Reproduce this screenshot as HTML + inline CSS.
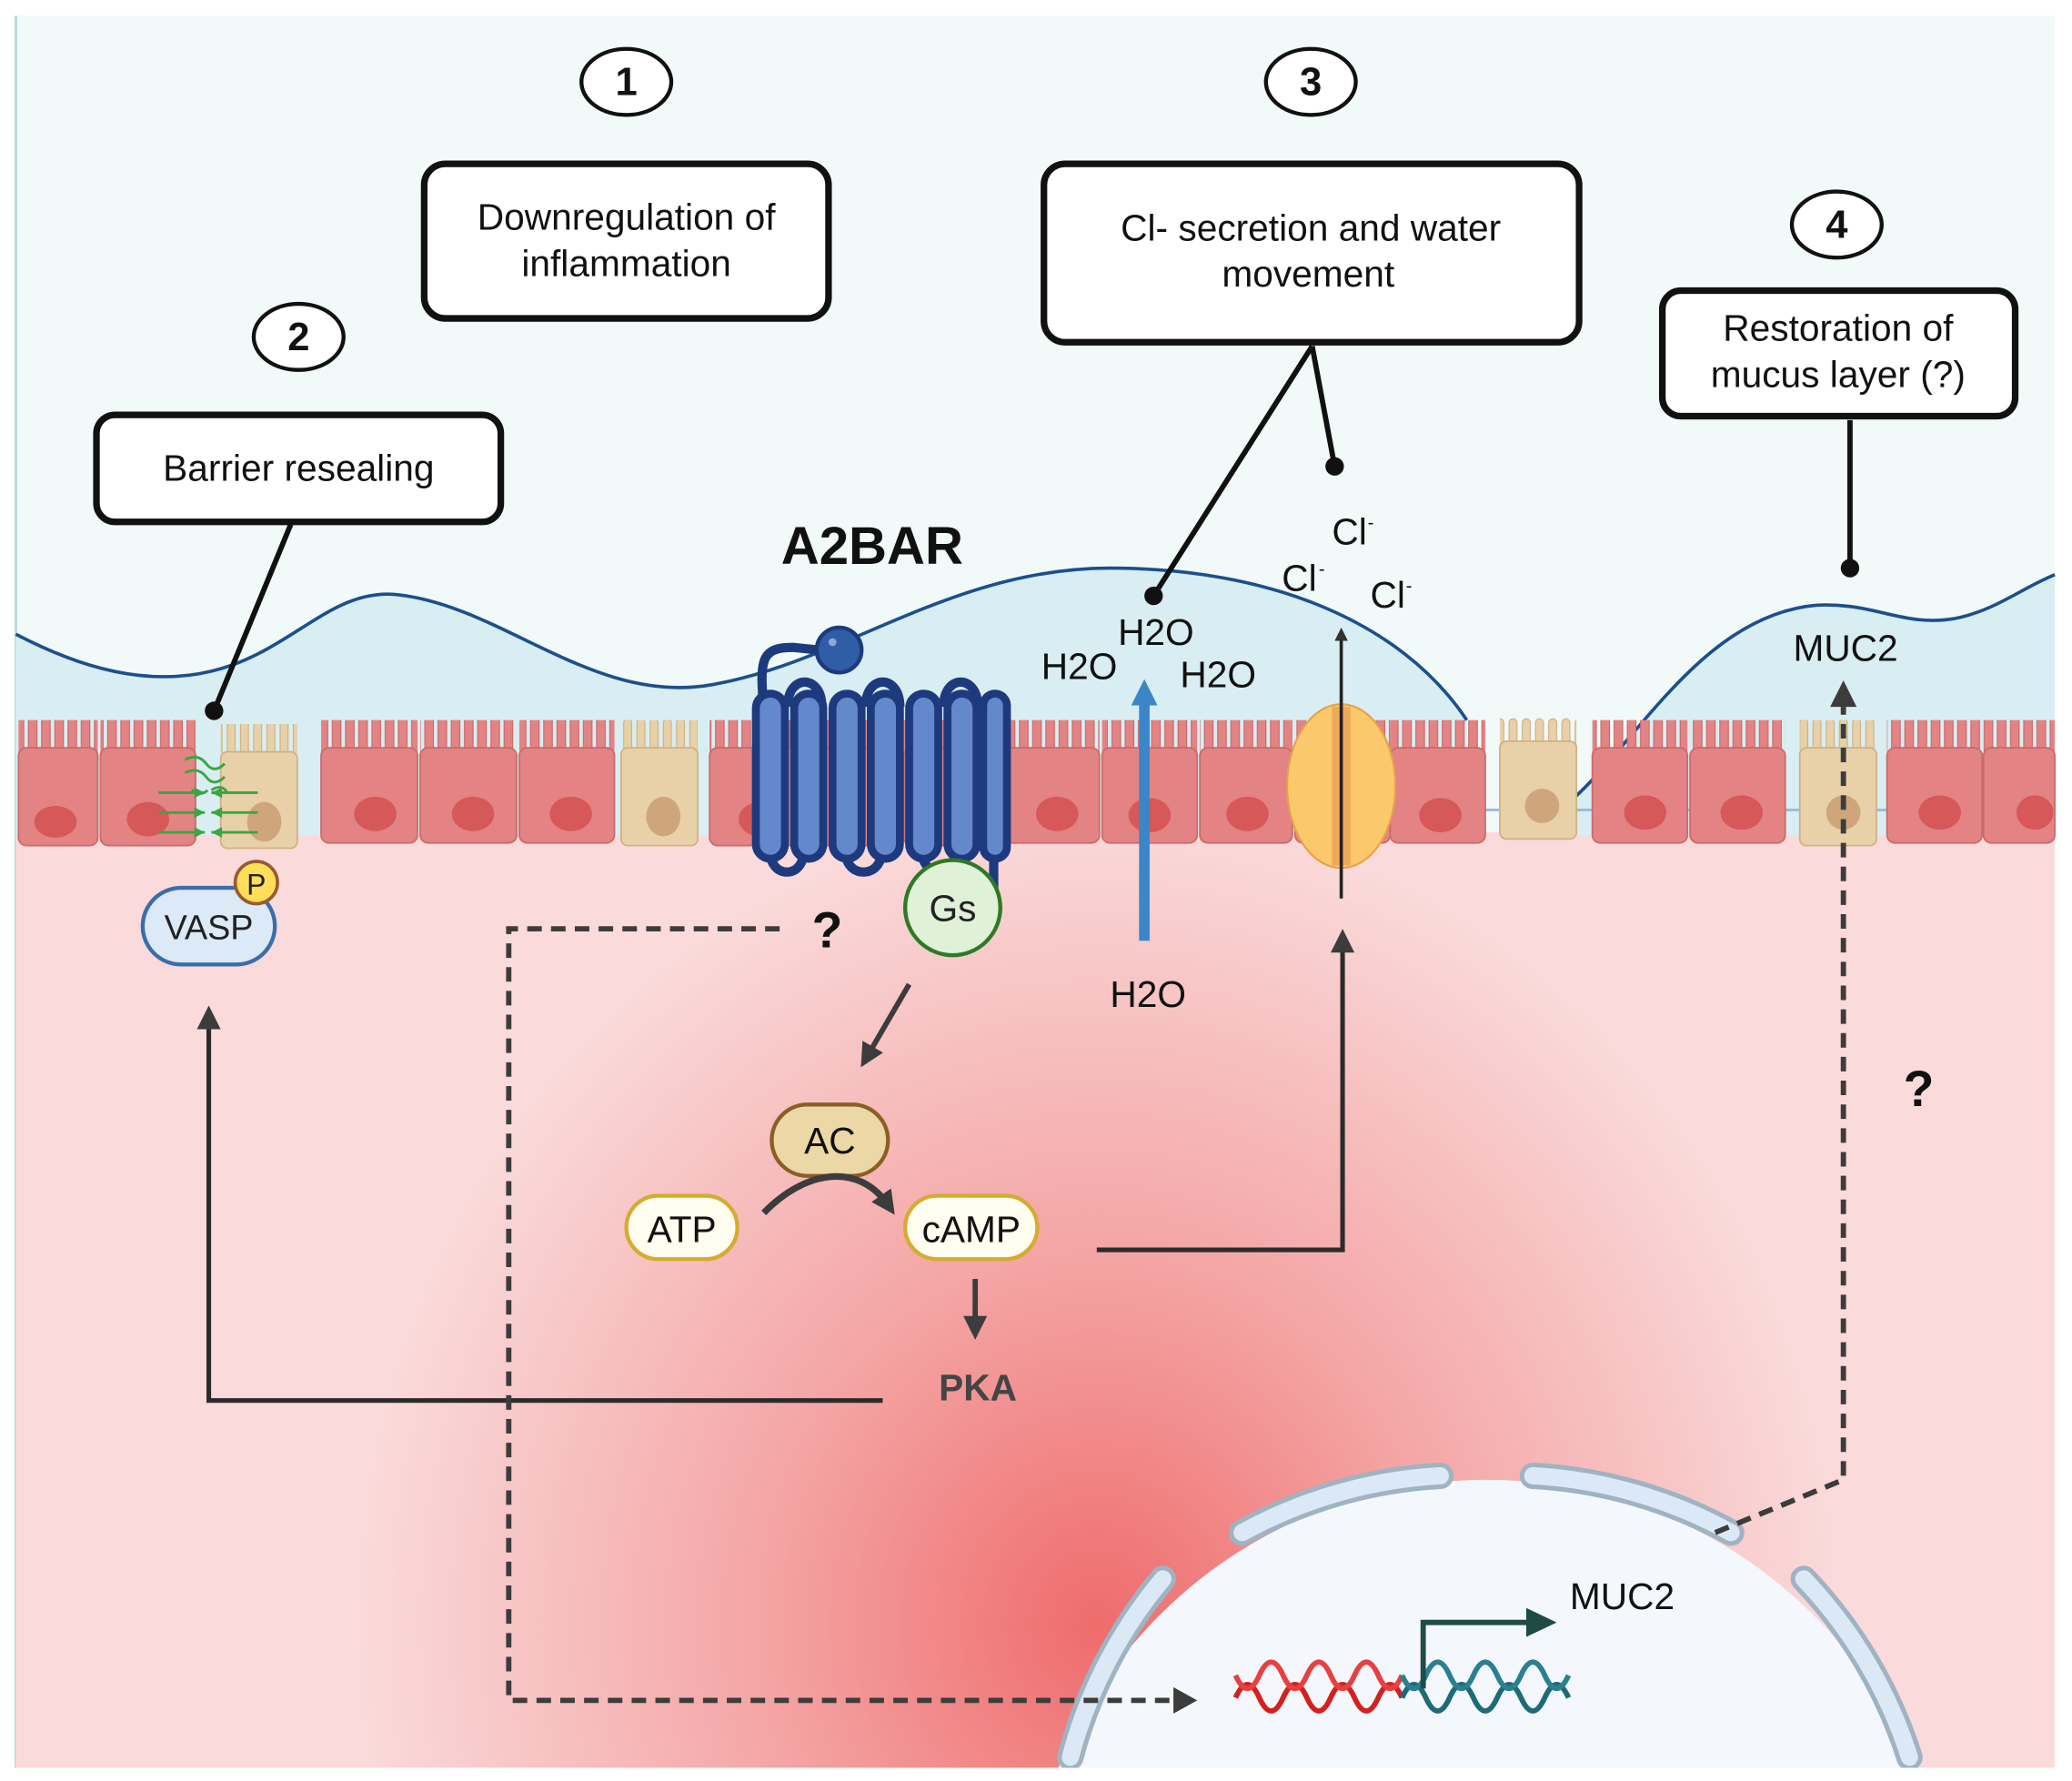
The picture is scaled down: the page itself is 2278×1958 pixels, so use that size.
<!DOCTYPE html>
<html><head><meta charset="utf-8"><style>
html,body{margin:0;padding:0;background:#fff;width:2278px;height:1958px;overflow:hidden;}
svg{display:block;font-family:"Liberation Sans",sans-serif;}
</style></head><body>
<svg width="2278" height="1958" viewBox="0 0 1568 1348" preserveAspectRatio="none" xmlns="http://www.w3.org/2000/svg">
<defs>
<radialGradient id="red" cx="830" cy="1230" r="560" gradientUnits="userSpaceOnUse" gradientTransform="translate(830 1230) scale(1 1.1) translate(-830 -1230)">
<stop offset="0" stop-color="#ef6c6c"/><stop offset="0.45" stop-color="#f4a4a4"/><stop offset="1" stop-color="#fadada"/>
</radialGradient>
<pattern id="mvR" width="10" height="30" patternUnits="userSpaceOnUse"><rect x="1.5" y="1" width="6.5" height="34" rx="3.2" fill="#e38383" stroke="#c86a6a" stroke-width="0.8"/></pattern>
<pattern id="mvT" width="10" height="30" patternUnits="userSpaceOnUse"><rect x="2" y="4" width="6" height="34" rx="3" fill="#e8d1a8" stroke="#cfb182" stroke-width="0.8"/></pattern>
<marker id="ah" markerWidth="10" markerHeight="10" refX="5" refY="5" orient="auto" markerUnits="userSpaceOnUse" viewBox="0 0 10 10"><path d="M0,0 L10,5 L0,10z" fill="#333"/></marker>
<marker id="ahB" viewBox="0 0 10 10" refX="2" refY="5" markerWidth="20" markerHeight="20" orient="auto" markerUnits="userSpaceOnUse"><path d="M0,0 L10,5 L0,10z" fill="#3a86c8"/></marker>
<marker id="ahK" viewBox="0 0 10 10" refX="5" refY="5" markerWidth="18" markerHeight="18" orient="auto" markerUnits="userSpaceOnUse"><path d="M0,0 L10,5 L0,10z" fill="#3c3c3c"/></marker>
</defs>
<rect width="1568" height="1348" fill="#fff"/>
<rect x="11" y="12" width="1544" height="1326" fill="#f1faf8"/>
<line x1="12" y1="12" x2="12" y2="1338" stroke="#b8dade" stroke-width="2"/>
<rect x="12" y="630" width="1543" height="708" fill="url(#red)"/>
<path d="M12,480 C60,505 110,520 160,508 C220,494 250,445 300,450 C380,458 450,535 540,518 C640,500 720,430 840,430 C960,430 1060,470 1110,545 L1110,632 L12,632Z" fill="#d9eef2"/>
<path d="M1190,605 C1240,560 1290,465 1375,458 C1420,456 1440,475 1480,468 C1510,462 1530,445 1555,435 L1555,632 L1190,632Z" fill="#d9eef2"/>
<path d="M12,480 C60,505 110,520 160,508 C220,494 250,445 300,450 C380,458 450,535 540,518 C640,500 720,430 840,430 C960,430 1060,470 1110,545" fill="none" stroke="#1c4f8c" stroke-width="2.5"/>
<path d="M1190,605 C1240,560 1290,465 1375,458 C1420,456 1440,475 1480,468 C1510,462 1530,445 1555,435" fill="none" stroke="#1c4f8c" stroke-width="2.5"/>
<line x1="1110" y1="613" x2="1555" y2="613" stroke="#9ab8e0" stroke-width="2"/>
<g>
<g fill="#e38383" stroke="#c86a6a" stroke-width="1.2">
<rect x="14" y="545" width="60" height="25" fill="url(#mvR)" stroke="none"/><rect x="14" y="566" width="60" height="74" rx="6"/>
<rect x="76" y="545" width="72" height="25" fill="url(#mvR)" stroke="none"/><rect x="76" y="566" width="72" height="74" rx="6"/>
<rect x="243" y="545" width="73" height="25" fill="url(#mvR)" stroke="none"/><rect x="243" y="566" width="73" height="72" rx="6"/>
<rect x="318" y="545" width="73" height="25" fill="url(#mvR)" stroke="none"/><rect x="318" y="566" width="73" height="72" rx="6"/>
<rect x="393" y="545" width="72" height="25" fill="url(#mvR)" stroke="none"/><rect x="393" y="566" width="72" height="72" rx="6"/>
<rect x="537" y="545" width="74" height="25" fill="url(#mvR)" stroke="none"/><rect x="537" y="566" width="74" height="74" rx="6"/>
<rect x="611" y="545" width="72" height="25" fill="url(#mvR)" stroke="none"/><rect x="611" y="566" width="72" height="74" rx="6"/>
<rect x="684" y="545" width="74" height="25" fill="url(#mvR)" stroke="none"/><rect x="684" y="566" width="74" height="74" rx="6"/>
<rect x="760" y="545" width="72" height="25" fill="url(#mvR)" stroke="none"/><rect x="760" y="566" width="72" height="72" rx="6"/>
<rect x="834" y="545" width="72" height="25" fill="url(#mvR)" stroke="none"/><rect x="834" y="566" width="72" height="72" rx="6"/>
<rect x="908" y="545" width="70" height="25" fill="url(#mvR)" stroke="none"/><rect x="908" y="566" width="70" height="72" rx="6"/>
<rect x="980" y="545" width="72" height="25" fill="url(#mvR)" stroke="none"/><rect x="980" y="566" width="72" height="72" rx="6"/>
<rect x="1052" y="545" width="72" height="25" fill="url(#mvR)" stroke="none"/><rect x="1052" y="566" width="72" height="72" rx="6"/>
<rect x="1205" y="545" width="72" height="25" fill="url(#mvR)" stroke="none"/><rect x="1205" y="566" width="72" height="72" rx="6"/>
<rect x="1279" y="545" width="72" height="25" fill="url(#mvR)" stroke="none"/><rect x="1279" y="566" width="72" height="72" rx="6"/>
<rect x="1428" y="545" width="72" height="25" fill="url(#mvR)" stroke="none"/><rect x="1428" y="566" width="72" height="72" rx="6"/>
<rect x="1501" y="545" width="54" height="25" fill="url(#mvR)" stroke="none"/><rect x="1501" y="566" width="54" height="72" rx="6"/>
</g>
<g fill="#e8d1a8" stroke="#cfb182" stroke-width="1.2">
<rect x="167" y="548" width="58" height="25" fill="url(#mvT)" stroke="none"/><rect x="167" y="569" width="58" height="73" rx="5"/>
<rect x="470" y="545" width="58" height="25" fill="url(#mvT)" stroke="none"/><rect x="470" y="566" width="58" height="74" rx="5"/>
<rect x="1135" y="540" width="58" height="25" fill="url(#mvT)" stroke="none"/><rect x="1135" y="561" width="58" height="74" rx="5"/>
<rect x="1362" y="545" width="58" height="25" fill="url(#mvT)" stroke="none"/><rect x="1362" y="566" width="58" height="74" rx="5"/>
</g>
<g fill="#d65858">
<ellipse cx="42" cy="622" rx="16" ry="12"/><ellipse cx="112" cy="620" rx="16" ry="13"/>
<ellipse cx="284" cy="616" rx="16" ry="13"/><ellipse cx="358" cy="616" rx="16" ry="13"/><ellipse cx="432" cy="616" rx="16" ry="13"/>
<ellipse cx="575" cy="620" rx="16" ry="13"/><ellipse cx="800" cy="616" rx="16" ry="13"/><ellipse cx="870" cy="617" rx="16" ry="13"/>
<ellipse cx="944" cy="616" rx="16" ry="13"/><ellipse cx="1090" cy="617" rx="16" ry="13"/>
<ellipse cx="1245" cy="615" rx="16" ry="13"/><ellipse cx="1318" cy="615" rx="16" ry="13"/><ellipse cx="1468" cy="615" rx="16" ry="13"/><ellipse cx="1540" cy="615" rx="14" ry="13"/>
</g>
<g fill="#cfa67c">
<ellipse cx="200" cy="622" rx="13" ry="15"/><ellipse cx="502" cy="618" rx="13" ry="15"/><ellipse cx="1167" cy="610" rx="13" ry="13"/><ellipse cx="1395" cy="615" rx="13" ry="13"/>
</g>
</g>
<g stroke="#3aa640" stroke-width="2" fill="none">
<path d="M140,575 q10,-5 16,3 q6,8 14,0 M140,585 q10,-5 16,3 q6,8 14,0 M145,598 q8,5 12,0 M160,598 q8,-5 12,2"/>
<path d="M120,600 h35 M120,615 h35 M120,630 h35 M160,600 h35 M160,615 h35 M160,630 h35"/>
</g>
<g fill="#3aa640"><path d="M155,600 l-8,-4 v8z M155,615 l-8,-4 v8z M155,630 l-8,-4 v8z M160,600 l8,-4 v8z M160,615 l8,-4 v8z M160,630 l8,-4 v8z"/></g>
<g fill="none" stroke="#1e3a7e" stroke-width="7">
<path d="M578,538 C575,500 575,490 600,490 L620,492"/>
<path d="M596,535 C596,510 622,510 622,535 M655,535 C655,510 681,510 681,535 M714,535 C714,510 740,510 740,535"/>
<path d="M583,645 C583,665 608,665 608,645 M640,645 C640,665 667,665 667,645 M698,645 C698,665 725,665 725,645"/>
<path d="M752,645 L752,680"/>
</g>
<g fill="#6388cc" stroke="#1e3a7e" stroke-width="6">
<rect x="572" y="525" width="22" height="125" rx="11"/><rect x="601" y="525" width="22" height="125" rx="11"/>
<rect x="630" y="525" width="22" height="125" rx="11"/><rect x="659" y="525" width="22" height="125" rx="11"/>
<rect x="688" y="525" width="22" height="125" rx="11"/><rect x="717" y="525" width="22" height="125" rx="11"/>
<rect x="744" y="525" width="18" height="125" rx="9"/>
</g>
<circle cx="635" cy="492" r="17" fill="#2f5ea6" stroke="#1e3a7e" stroke-width="3"/>
<circle cx="630" cy="486" r="3" fill="#8aa8d8"/>
<ellipse cx="1015" cy="595" rx="41" ry="62" fill="#fcc86c" stroke="#e5a24a" stroke-width="1.5"/>
<rect x="1008" y="535" width="14" height="120" fill="#f0a85a"/>
<text x="660" y="427" font-size="40" font-weight="bold" text-anchor="middle" fill="#111">A2BAR</text>
<g font-size="28" fill="#111">
<text x="788" y="514">H2O</text><text x="846" y="488">H2O</text><text x="893" y="520">H2O</text>
<text x="1008" y="412">Cl</text><text x="1035" y="400" font-size="14">-</text>
<text x="970" y="447">Cl</text><text x="998" y="435" font-size="14">-</text>
<text x="1037" y="460">Cl</text><text x="1064" y="448" font-size="14">-</text>
<text x="1357" y="500">MUC2</text>
<text x="840" y="762">H2O</text>
</g>
<line x1="866" y1="712" x2="866" y2="530" stroke="#3a86c8" stroke-width="8" marker-end="url(#ahB)"/>
<line x1="1015" y1="680" x2="1015" y2="480" stroke="#222" stroke-width="2.5" marker-end="url(#ah)"/>
<g fill="#fff" stroke="#111" stroke-width="5">
<rect x="321" y="124" width="306" height="117" rx="16"/>
<rect x="790" y="124" width="405" height="135" rx="16"/>
<rect x="1258" y="220" width="267" height="95" rx="14"/>
<rect x="73" y="314" width="306" height="81" rx="14"/>
<ellipse cx="474" cy="62" rx="34" ry="25" stroke-width="3"/>
<ellipse cx="992" cy="62" rx="34" ry="25" stroke-width="3"/>
<ellipse cx="226" cy="255" rx="34" ry="25" stroke-width="3"/>
<ellipse cx="1390" cy="170" rx="34" ry="25" stroke-width="3"/>
</g>
<g font-size="30" font-weight="bold" text-anchor="middle" fill="#111">
<text x="474" y="72">1</text><text x="992" y="72">3</text><text x="226" y="265">2</text><text x="1390" y="180">4</text>
</g>
<g font-size="28" text-anchor="middle" fill="#111">
<text x="474" y="174">Downregulation of</text><text x="474" y="209">inflammation</text>
<text x="992" y="182">Cl- secretion and water</text><text x="990" y="217">movement</text>
<text x="1391" y="258">Restoration of</text><text x="1391" y="293">mucus layer (?)</text>
<text x="226" y="364">Barrier resealing</text>
</g>
<g stroke="#111" stroke-width="4" fill="none">
<line x1="220" y1="397" x2="162" y2="538"/>
<line x1="993" y1="262" x2="873" y2="451"/><line x1="993" y1="262" x2="1010" y2="353"/>
<line x1="1400" y1="318" x2="1400" y2="430"/>
</g>
<g fill="#111"><circle cx="162" cy="538" r="7"/><circle cx="873" cy="451" r="7"/><circle cx="1010" cy="353" r="7"/><circle cx="1400" cy="430" r="7"/></g>
<rect x="108" y="672" width="100" height="58" rx="29" fill="#dce9f7" stroke="#3a6ea8" stroke-width="3"/>
<text x="158" y="711" font-size="26" text-anchor="middle" fill="#222">VASP</text>
<circle cx="194" cy="668" r="16" fill="#ffdf5a" stroke="#9a5a30" stroke-width="2.5"/>
<text x="194" y="677" font-size="22" text-anchor="middle" fill="#222">P</text>
<circle cx="721" cy="687" r="36" fill="#dff2d8" stroke="#2e7a24" stroke-width="3"/>
<text x="721" y="697" font-size="28" text-anchor="middle" fill="#222">Gs</text>
<line x1="688" y1="745" x2="656" y2="800" stroke="#3c3c3c" stroke-width="4" marker-end="url(#ahK)"/>
<rect x="584" y="836" width="88" height="54" rx="27" fill="#ecd7a6" stroke="#8a5f24" stroke-width="3"/>
<text x="628" y="873" font-size="28" text-anchor="middle" fill="#111">AC</text>
<rect x="474" y="905" width="84" height="48" rx="24" fill="#fffcf0" stroke="#d4ac30" stroke-width="3"/>
<text x="516" y="940" font-size="28" text-anchor="middle" fill="#111">ATP</text>
<rect x="685" y="905" width="100" height="48" rx="24" fill="#fffcf0" stroke="#d4ac30" stroke-width="3"/>
<text x="735" y="940" font-size="28" text-anchor="middle" fill="#111">cAMP</text>
<path d="M578,918 C610,885 650,880 672,912" fill="none" stroke="#3c3c3c" stroke-width="5" marker-end="url(#ahK)"/>
<line x1="738" y1="968" x2="738" y2="1005" stroke="#3c3c3c" stroke-width="4" marker-end="url(#ahK)"/>
<text x="740" y="1060" font-size="28" font-weight="bold" text-anchor="middle" fill="#444">PKA</text>
<polyline points="668,1060 158,1060 158,770" fill="none" stroke="#2b2b2b" stroke-width="3.5" marker-end="url(#ahK)"/>
<polyline points="830,946 1016,946 1016,712" fill="none" stroke="#2b2b2b" stroke-width="3.5" marker-end="url(#ahK)"/>
<circle cx="1125" cy="1470" r="350" fill="#f4f8fd"/>
<g fill="none" stroke-linecap="round">
<g stroke="#9fb3c2" stroke-width="20">
<path d="M810,1330 A350,350 0 0 1 880,1195"/><path d="M940,1160 A350,350 0 0 1 1090,1117"/>
<path d="M1160,1117 A350,350 0 0 1 1310,1160"/><path d="M1365,1195 A350,350 0 0 1 1445,1330"/>
</g>
<g stroke="#dbe9f6" stroke-width="13">
<path d="M810,1330 A350,350 0 0 1 880,1195"/><path d="M940,1160 A350,350 0 0 1 1090,1117"/>
<path d="M1160,1117 A350,350 0 0 1 1310,1160"/><path d="M1365,1195 A350,350 0 0 1 1445,1330"/>
</g>
</g>
<rect x="0" y="1338" width="1568" height="10" fill="#fff"/>
<g fill="none" stroke-width="4">
<path d="M935,1285 q9,-20 18,0 t18,0 t18,0 t18,0 t18,0 t18,0 t18,0" stroke="#d42020"/>
<path d="M935,1268 q9,20 18,0 t18,0 t18,0 t18,0 t18,0 t18,0 t18,0" stroke="#e84040"/>
<path d="M1061,1285 q9,-20 18,0 t18,0 t18,0 t18,0 t18,0 t18,0 t18,0" stroke="#1e6a78"/>
<path d="M1061,1268 q9,20 18,0 t18,0 t18,0 t18,0 t18,0 t18,0 t18,0" stroke="#2a8090"/>
</g>
<polyline points="1077,1278 1077,1228 1158,1228" fill="none" stroke="#1f4a48" stroke-width="4"/>
<path d="M1155,1217 L1178,1228 L1155,1239z" fill="#1f4a48"/>
<text x="1188" y="1218" font-size="28" fill="#111">MUC2</text>
<g fill="none" stroke="#3c3c3c" stroke-width="4" stroke-dasharray="11,7">
<polyline points="590,703 385,703 385,1287 888,1287"/>
<polyline points="1298,1160 1395,1120 1395,535"/>
</g>
<path d="M888,1277 L906,1287 L888,1297z" fill="#3c3c3c"/>
<path d="M1385,535 L1395,515 L1405,535z" fill="#3c3c3c"/>
<text x="626" y="717" font-size="38" font-weight="bold" text-anchor="middle" fill="#111">?</text>
<text x="1452" y="837" font-size="38" font-weight="bold" text-anchor="middle" fill="#111">?</text>
</svg>
</body></html>
